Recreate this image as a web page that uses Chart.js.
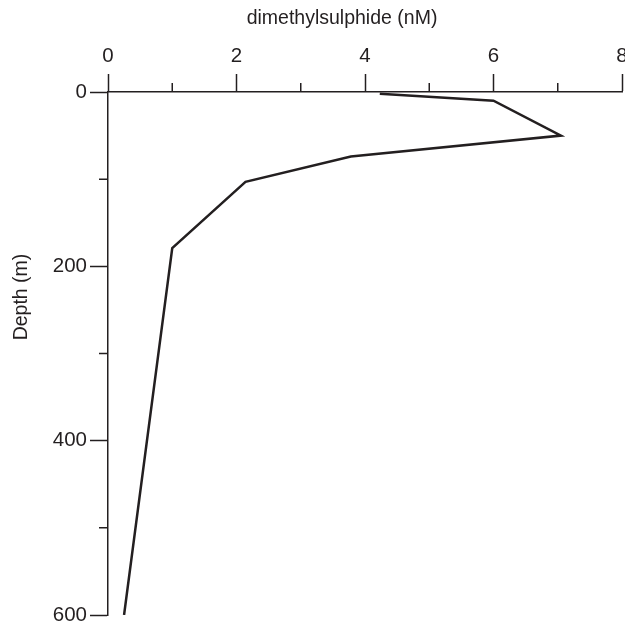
<!DOCTYPE html>
<html lang="en">
<head>
<meta charset="UTF-8">
<title>DMS depth profile</title>
<script src="https://cdn.jsdelivr.net/npm/chart.js"></script>
<style>
  body { margin: 0; background: white; }
  #wrap { width: 625px; height: 622px; }
</style>
</head>
<body>
<div id="wrap"><canvas id="dms"></canvas></div>
<script>
// dimethylsulphide (nM) vs depth (m)
const dms = [4.23, 6.0, 7.05, 3.78, 2.14, 1.0, 0.25];
const depth = [2, 10, 50, 74, 103, 179, 600];
const xMajor = [0, 2, 4, 6, 8];
const xMinor = [1, 3, 5, 7];
const yMajor = [0, 200, 400, 600];
const yMinor = [100, 300, 500];

const ink = '#231f20';
const fam = 'Liberation Sans, Arial, sans-serif';
const tickFont = { family: fam, size: 20.5 };

// short ticks + axis titles
const extras = {
  id: 'extras',
  afterDraw(chart) {
    const c = chart.ctx, xs = chart.scales.x, ys = chart.scales.y;
    c.save();
    c.strokeStyle = ink;
    c.lineWidth = 1.5;
    c.beginPath();
    xMinor.forEach(v => {
      const px = xs.getPixelForValue(v);
      c.moveTo(px, xs.bottom); c.lineTo(px, xs.bottom - 9);
    });
    yMinor.forEach(v => {
      const py = ys.getPixelForValue(v);
      c.moveTo(ys.right, py); c.lineTo(ys.right - 9, py);
    });
    c.stroke();
    c.fillStyle = ink;
    c.font = '19.5px ' + fam;
    c.textAlign = 'center';
    c.textBaseline = 'middle';
    c.fillText('dimethylsulphide (nM)', 342, 19);
    c.translate(22, 297);
    c.rotate(-Math.PI / 2);
    c.fillText('Depth (m)', 0, 0);
    c.restore();
  }
};

new Chart(document.getElementById('dms'), {
  type: 'line',
  data: {
    datasets: [{
      data: dms.map((v, i) => ({ x: v, y: depth[i] })),
      borderColor: ink,
      borderWidth: 2.5,
      pointRadius: 0,
      fill: false,
      tension: 0
    }]
  },
  options: {
    responsive: true,
    maintainAspectRatio: false,
    animation: false,
    layout: { padding: { top: 0, left: 0, right: 3, bottom: 7 } },
    plugins: { legend: { display: false }, tooltip: { enabled: false } },
    scales: {
      x: {
        type: 'linear',
        position: 'top',
        min: 0, max: 8,
        afterBuildTicks: s => { s.ticks = xMajor.map(v => ({ value: v })); },
        afterFit: s => { s.height = 92; s.paddingLeft = 0; s.paddingRight = 0; },
        ticks: { color: ink, font: tickFont, padding: 5, maxRotation: 0 },
        grid: { drawOnChartArea: false, tickLength: 18, tickColor: ink, tickWidth: 1.5 },
        border: { color: ink, width: 1.5 }
      },
      y: {
        type: 'linear',
        reverse: true,
        min: 0, max: 600,
        afterBuildTicks: s => { s.ticks = yMajor.map(v => ({ value: v })); },
        afterFit: s => { s.width = 108; s.paddingTop = 0; s.paddingBottom = 0; },
        ticks: { color: ink, font: tickFont, padding: 3 },
        grid: { drawOnChartArea: false, tickLength: 18, tickColor: ink, tickWidth: 1.5 },
        border: { color: ink, width: 1.5 }
      }
    }
  },
  plugins: [extras]
});
</script>
</body>
</html>
